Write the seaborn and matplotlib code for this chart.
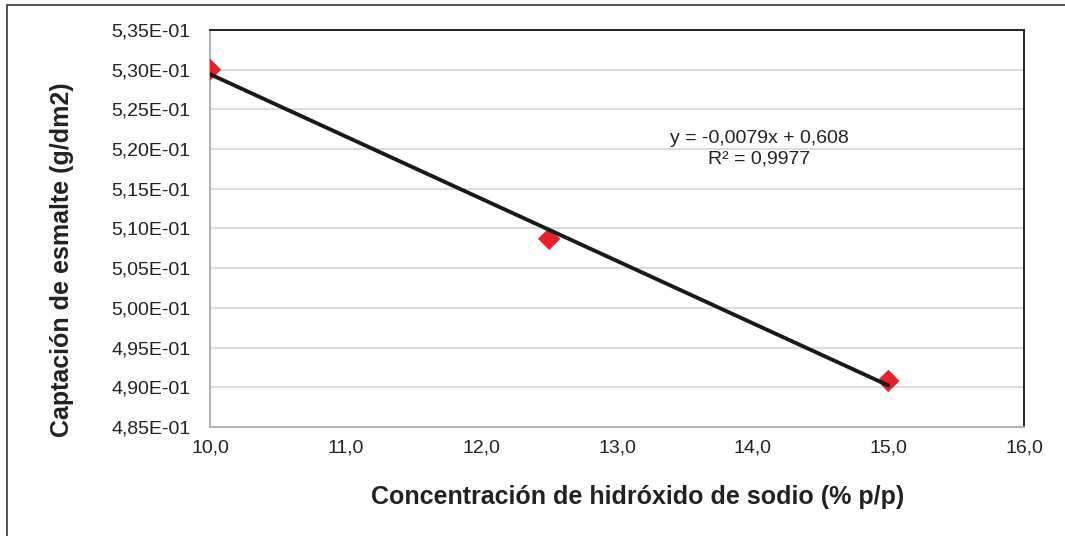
import matplotlib
matplotlib.use("Agg")
import matplotlib.pyplot as plt
import seaborn as sns
import numpy as np
import pandas as pd
from matplotlib.ticker import FuncFormatter, MultipleLocator
from matplotlib.patches import Rectangle

# Data
concentracion = [10.0, 12.5, 15.0]
captacion = [0.5300, 0.5087, 0.4908]
equation_text = "y = -0,0079x + 0,608\nR² = 0,9977"
x_label = "Concentración de hidróxido de sodio (% p/p)"
y_label = "Captación de esmalte (g/dm2)"

df = pd.DataFrame({"x": concentracion, "y": captacion})

sns.set_style("white")
plt.rcParams["font.family"] = ["Liberation Sans", "DejaVu Sans"]

fig = plt.figure(figsize=(10.65, 5.36), dpi=100)
ax = fig.add_axes([210/1065, 1 - 427/536, (1024-210)/1065, (427-30)/536])

sns.regplot(data=df, x="x", y="y", ax=ax, ci=None, truncate=True,
            marker="D",
            scatter_kws=dict(color="#e8202a", s=130, edgecolors="none", alpha=1, zorder=3),
            line_kws=dict(color="#1a1a1a", lw=2.8, zorder=4))

ax.set_xlim(10, 16)
ax.set_ylim(0.485, 0.535)
ax.xaxis.set_major_locator(MultipleLocator(1))
ax.yaxis.set_major_locator(MultipleLocator(0.005))
ax.xaxis.set_major_formatter(FuncFormatter(lambda v, p: f"{v:.1f}".replace(".", ",")))
ax.yaxis.set_major_formatter(FuncFormatter(lambda v, p: f"{v:.2E}".replace(".", ",")))
ax.grid(axis="y", color="#d9d9d9", lw=1.3)
ax.set_axisbelow(True)
ax.tick_params(length=0, labelsize=14, colors="#222222")
ax.tick_params(axis="y", pad=14)
ax.tick_params(axis="x", pad=9)

for s in ["top", "right"]:
    ax.spines[s].set_color("#222222")
    ax.spines[s].set_linewidth(1.4)
for s in ["left", "bottom"]:
    ax.spines[s].set_color("#b0b0b0")
    ax.spines[s].set_linewidth(1.4)

ax.set_xlabel(x_label, fontsize=18, fontweight="bold", color="#222222")
ax.set_ylabel(y_label, fontsize=18, fontweight="bold", color="#222222")
ax.xaxis.set_label_coords((638-210)/814, -(497-427)/397)
ax.yaxis.set_label_coords(-(210-62)/814, (427-260)/397)
ax.xaxis.label.set_va("center")
ax.yaxis.label.set_va("center")

ax.text(14.05, 0.5200, equation_text, ha="center", va="center", fontsize=14,
        color="#222222", linespacing=1.25)

# figure frame (left/top visible)
fig.patches.append(Rectangle((7/1065, -0.1), 1.2, 1 - 5/536 + 0.1, transform=fig.transFigure,
                             fill=False, edgecolor="#333333", lw=1.2))

fig.savefig("out.png", dpi=100)
